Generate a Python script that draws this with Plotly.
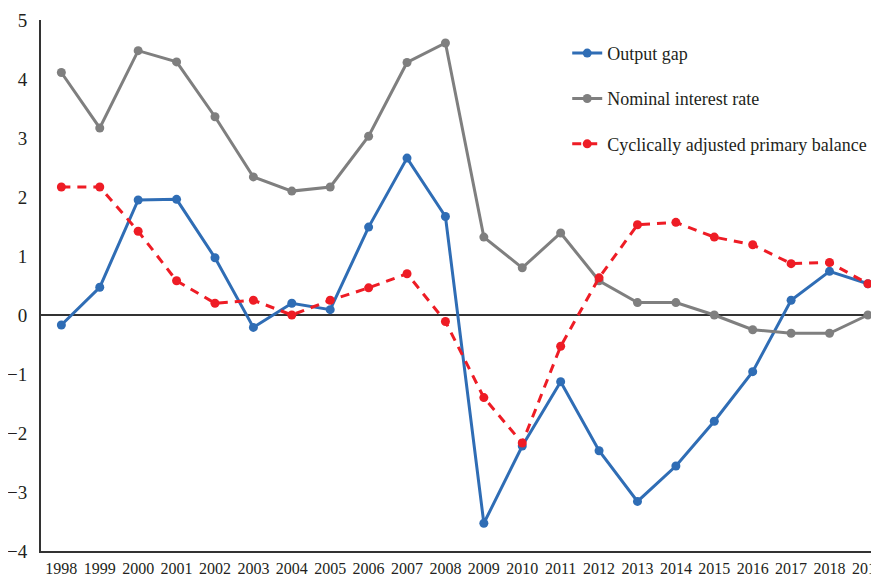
import plotly.graph_objects as go

years = list(range(1998, 2020))
output_gap = [-0.17, 0.47, 1.95, 1.96, 0.97, -0.21, 0.20, 0.09, 1.49, 2.66, 1.67,
              -3.53, -2.22, -1.13, -2.30, -3.16, -2.56, -1.80, -0.96, 0.25, 0.74, 0.53]
nominal_rate = [4.11, 3.17, 4.48, 4.29, 3.36, 2.34, 2.10, 2.17, 3.03, 4.28, 4.61,
                1.32, 0.80, 1.39, 0.58, 0.21, 0.21, 0.00, -0.25, -0.31, -0.31, 0.00]
capb = [2.17, 2.17, 1.42, 0.58, 0.20, 0.25, 0.00, 0.25, 0.46, 0.70, -0.11,
        -1.40, -2.17, -0.53, 0.63, 1.53, 1.57, 1.32, 1.19, 0.87, 0.89, 0.53]
y_ticks = [-4, -3, -2, -1, 0, 1, 2, 3, 4, 5]

FONT = "Liberation Serif"

fig = go.Figure()
fig.add_trace(go.Scatter(x=years, y=output_gap, name="Output gap", mode="lines+markers",
                         line=dict(color="#2F6DB5", width=3), marker=dict(size=9, color="#2F6DB5"),
                         legendgroup="a", cliponaxis=False))
fig.add_trace(go.Scatter(x=years, y=nominal_rate, name="Nominal interest rate", mode="lines+markers",
                         line=dict(color="#7F7F7F", width=3), marker=dict(size=9, color="#7F7F7F"),
                         legendgroup="b", cliponaxis=False))
fig.add_trace(go.Scatter(x=years, y=capb, name="Cyclically adjusted primary balance", mode="lines+markers",
                         line=dict(color="#EE1C25", width=3, dash="9px,7px"), marker=dict(size=9, color="#EE1C25"),
                         legendgroup="c", cliponaxis=False))

fig.update_layout(
    width=879, height=576,
    margin=dict(l=33, r=16, t=12, b=33, autoexpand=False),
    paper_bgcolor="white", plot_bgcolor="white",
    font=dict(family=FONT, color="#231F20"),
    showlegend=True,
    legend=dict(x=0.634, y=0.972, xanchor="left", yanchor="top",
                font=dict(family=FONT, size=18, color="#231F20"),
                tracegroupgap=19, bgcolor="rgba(0,0,0,0)"),
    xaxis=dict(range=[1997.47, 2019.08], tickmode="array", tickvals=years,
               ticktext=[str(y) for y in years], showgrid=False, zeroline=False,
               showline=True, linecolor="#333333", linewidth=2, ticks="",
               tickfont=dict(family=FONT, size=16, color="#231F20"),
               ticklabelstandoff=2, automargin=False),
    yaxis=dict(range=[-4, 5], tickmode="array", tickvals=y_ticks,
               ticktext=[("\u2212" + str(-v)) if v < 0 else str(v) for v in y_ticks],
               showgrid=False, zeroline=True, zerolinecolor="#333333", zerolinewidth=1.5,
               showline=True, linecolor="#333333", linewidth=2, ticks="",
               tickfont=dict(family=FONT, size=19, color="#231F20"),
               ticklabelstandoff=8, automargin=False),
)

fig.write_html("out.html")
